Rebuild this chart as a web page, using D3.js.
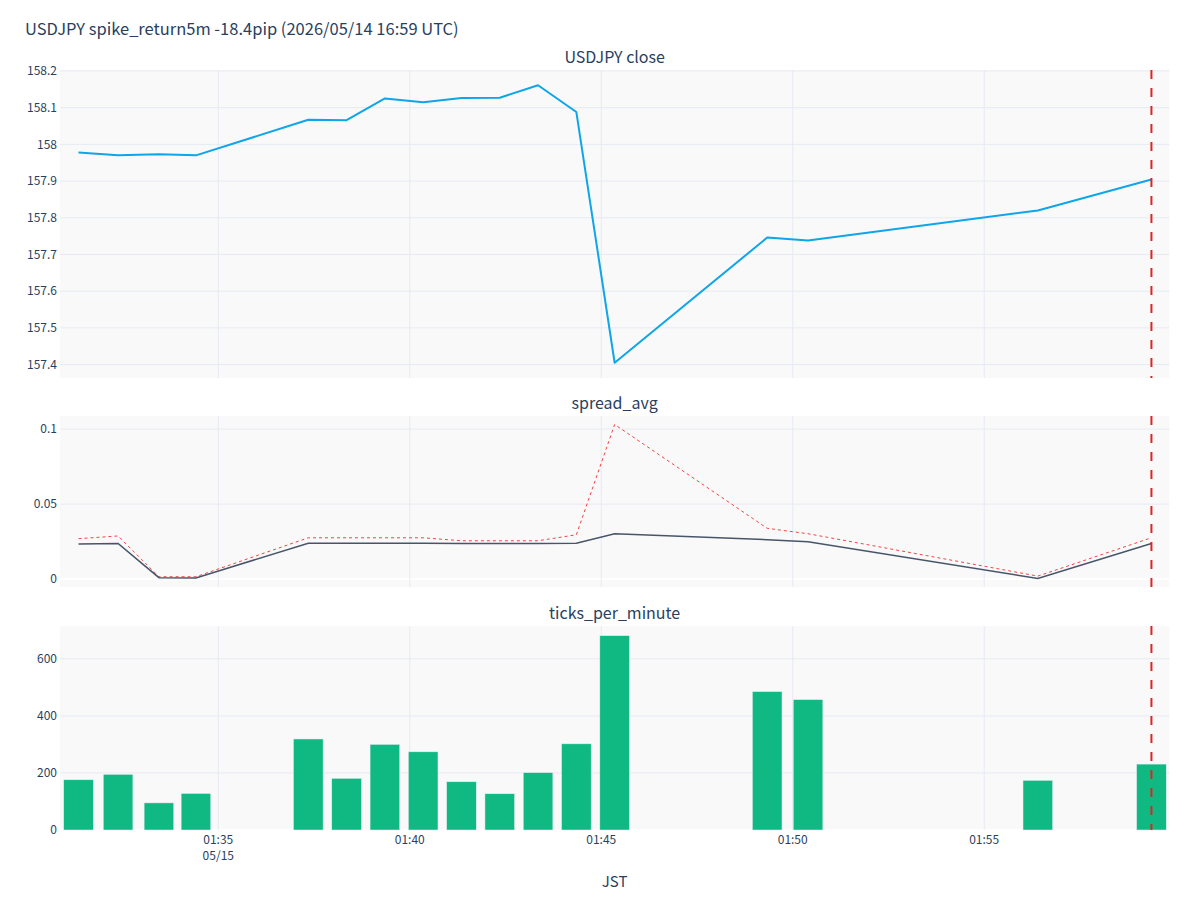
<!DOCTYPE html>
<html lang="en">
<head>
<meta charset="UTF-8">
<title>USDJPY spike</title>
<script src="https://d3js.org/d3.v7.min.js"></script>
<style>
  body { margin: 0; background: #fff; }
  text { font-family: "Noto Sans CJK JP", "Noto Sans", sans-serif; fill: #2a3f5f; }
</style>
</head>
<body>
<svg id="chart" width="1200" height="900"></svg>
<script>
// minute buckets (JST, 2026-05-15)
const times = ["01:31:21", "01:32:23", "01:33:27", "01:34:25", "01:37:21", "01:38:21", "01:39:21",
  "01:40:21", "01:41:21", "01:42:21", "01:43:21", "01:44:21", "01:45:21", "01:49:20",
  "01:50:24", "01:56:24", "01:59:22"];
const closeVals = [157.978, 157.970, 157.973, 157.970, 158.067, 158.066, 158.125, 158.115, 158.126,
  158.127, 158.161, 158.088, 157.405, 157.746, 157.738, 157.820, 157.904];
const spreadAvg = [0.0233, 0.0237, 0.0009, 0.0007, 0.0239, 0.0238, 0.0239, 0.0238, 0.0237, 0.0236,
  0.0237, 0.0238, 0.0302, 0.0262, 0.0249, 0.0003, 0.0237];
const spreadMax = [0.0269, 0.0287, 0.0015, 0.0015, 0.0275, 0.0275, 0.0275, 0.0275, 0.0255, 0.0255,
  0.0255, 0.0295, 0.1031, 0.0338, 0.0302, 0.0019, 0.0275];
const ticksPerMin = [176, 195, 95, 128, 319, 181, 300, 274, 169, 127, 201, 302, 681, 485, 457, 174, 231];
const eventTime = "01:59:22";
const closeTicks = [157.4, 157.5, 157.6, 157.7, 157.8, 157.9, 158, 158.1, 158.2];
const spreadTicks = [0, 0.05, 0.1];
const countTicks = [0, 200, 400, 600];

const parse = s => new Date("2026-05-15T" + s + "Z");
const dates = times.map(parse);

const svg = d3.select("#chart");
const left = 60, right = 1169.3;
const panels = [
  { top: 70, bottom: 378, title: "USDJPY close" },
  { top: 416, bottom: 587, title: "spread_avg" },
  { top: 626, bottom: 830, title: "ticks_per_minute" }
];

const x = d3.scaleUtc()
  .domain([d3.utcSecond.offset(dates[0], -29), d3.utcSecond.offset(dates[dates.length - 1], 28)])
  .range([left, right]);
const xTicks = x.ticks(d3.utcMinute.every(5));

function padded(vals) {
  const [lo, hi] = d3.extent(vals), p = (hi - lo) * 0.055;
  return [lo - p, hi + p];
}
const yClose = d3.scaleLinear().domain(padded(closeVals)).range([panels[0].bottom, panels[0].top]);
const ySpread = d3.scaleLinear().domain(padded(spreadAvg.concat(spreadMax))).range([panels[1].bottom, panels[1].top]);
const yCount = d3.scaleLinear().domain([0, d3.max(ticksPerMin) * 1.05]).range([panels[2].bottom, panels[2].top]);
const yScales = [yClose, ySpread, yCount];
const yTickSets = [closeTicks, spreadTicks, countTicks];

svg.append("text").attr("x", 25).attr("y", 35)
  .attr("font-size", 16.5).text("USDJPY spike_return5m -18.4pip (2026/05/14 16:59 UTC)");

panels.forEach((p, i) => {
  const g = svg.append("g");
  const y = yScales[i];
  g.append("rect").attr("x", left).attr("y", p.top)
    .attr("width", right - left).attr("height", p.bottom - p.top).attr("fill", "#f9f9fa");
  g.selectAll(".hg").data(yTickSets[i]).enter().append("line")
    .attr("x1", left).attr("x2", right)
    .attr("y1", d => y(d)).attr("y2", d => y(d))
    .attr("stroke", d => d === 0 ? "#ffffff" : "#e6eaf1")
    .attr("stroke-width", d => d === 0 ? 2 : 1);
  g.selectAll(".vg").data(xTicks).enter().append("line")
    .attr("x1", d => x(d)).attr("x2", d => x(d))
    .attr("y1", p.top).attr("y2", p.bottom)
    .attr("stroke", "#e6eaf1").attr("stroke-width", 1);
  g.selectAll(".yl").data(yTickSets[i]).enter().append("text")
    .attr("x", 57).attr("y", d => y(d)).attr("dy", "0.35em")
    .attr("text-anchor", "end").attr("font-size", 12)
    .text(d => d3.format("~g")(d));
  svg.append("text").attr("x", (left + right) / 2).attr("y", p.top - 7)
    .attr("text-anchor", "middle").attr("font-size", 16).text(p.title);
});

// close
svg.append("path").datum(closeVals)
  .attr("fill", "none").attr("stroke", "#0ea5e9").attr("stroke-width", 2)
  .attr("stroke-linejoin", "round")
  .attr("d", d3.line().x((d, i) => x(dates[i])).y(d => yClose(d)));

// spread
svg.append("path").datum(spreadMax)
  .attr("fill", "none").attr("stroke", "#ef4444").attr("stroke-width", 1)
  .attr("stroke-dasharray", "3,3")
  .attr("d", d3.line().x((d, i) => x(dates[i])).y(d => ySpread(d)));
svg.append("path").datum(spreadAvg)
  .attr("fill", "none").attr("stroke", "#475569").attr("stroke-width", 1.5)
  .attr("d", d3.line().x((d, i) => x(dates[i])).y(d => ySpread(d)));

// ticks per minute bars
const minGap = d3.min(d3.pairs(dates), ([a, b]) => x(b) - x(a));
const barW = minGap * 0.8;
svg.selectAll(".bar").data(ticksPerMin).enter().append("rect")
  .attr("x", (d, i) => x(dates[i]) - barW / 2)
  .attr("y", d => yCount(d))
  .attr("width", barW)
  .attr("height", d => yCount(0) - yCount(d))
  .attr("fill", "#10b981").attr("stroke", "#e5ecf6").attr("stroke-width", 0.5);

// event marker
const ev = x(parse(eventTime));
panels.forEach(p => {
  svg.append("line").attr("x1", ev).attr("x2", ev).attr("y1", p.top).attr("y2", p.bottom)
    .attr("stroke", "#dc2626").attr("stroke-width", 2).attr("stroke-dasharray", "9,9");
});

// x axis labels (bottom panel)
const xl = svg.append("g");
xTicks.forEach((t, i) => {
  const tx = xl.append("text").attr("x", x(t)).attr("y", 844)
    .attr("text-anchor", "middle").attr("font-size", 12);
  tx.append("tspan").attr("x", x(t)).text(d3.utcFormat("%H:%M")(t));
  if (i === 0) tx.append("tspan").attr("x", x(t)).attr("dy", 16).text(d3.utcFormat("%m/%d")(t));
});
svg.append("text").attr("x", (left + right) / 2).attr("y", 887)
  .attr("text-anchor", "middle").attr("font-size", 15).text("JST");
</script>
</body>
</html>
